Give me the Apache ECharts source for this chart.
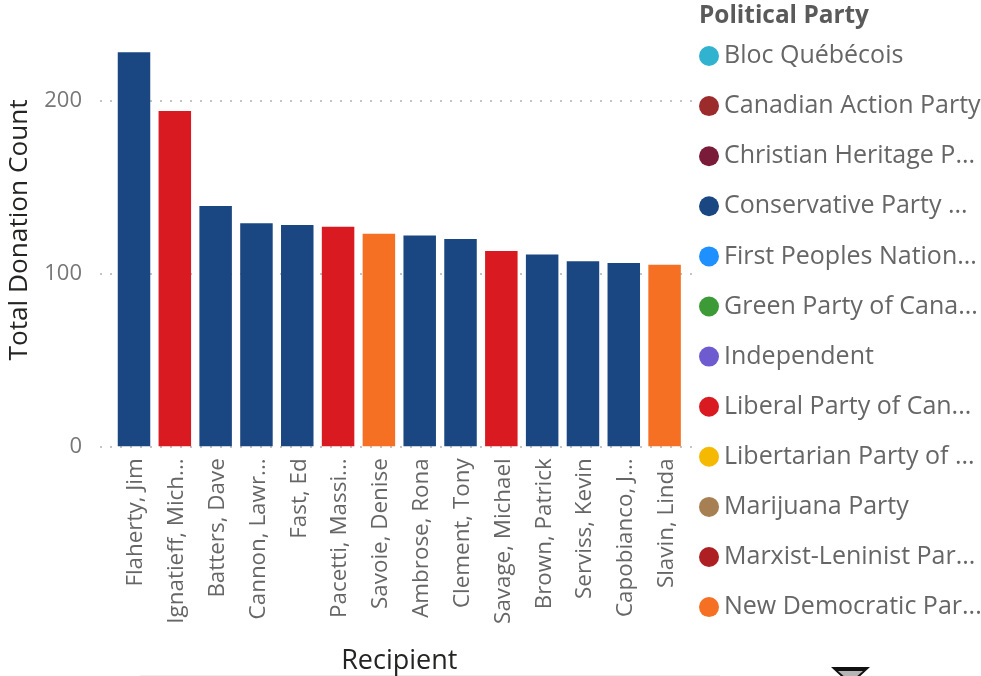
<!DOCTYPE html>
<html>
<head>
<meta charset="utf-8">
<style>html,body{margin:0;padding:0;background:#fff}#c{width:981px;height:676px}</style>
<script src="https://cdn.jsdelivr.net/npm/echarts@6/dist/echarts.min.js"></script>
</head>
<body>
<div id="c"></div>
<script>
const categories = ["Flaherty, Jim","Ignatieff, Mich...","Batters, Dave","Cannon, Lawr...","Fast, Ed","Pacetti, Massi...","Savoie, Denise","Ambrose, Rona","Clement, Tony","Savage, Michael","Brown, Patrick","Serviss, Kevin","Capobianco, J...","Slavin, Linda"];
const values = [228,194,139,129,128,127,123,122,120,113,111,107,106,105];
const recipientParty = ["Conservative Party ...","Liberal Party of Can...","Conservative Party ...","Conservative Party ...","Conservative Party ...","Liberal Party of Can...","New Democratic Par...","Conservative Party ...","Conservative Party ...","Liberal Party of Can...","Conservative Party ...","Conservative Party ...","Conservative Party ...","New Democratic Par..."];
const parties = ["Bloc Québécois","Canadian Action Party","Christian Heritage P...","Conservative Party ...","First Peoples Nation...","Green Party of Cana...","Independent","Liberal Party of Can...","Libertarian Party of ...","Marijuana Party","Marxist-Leninist Par...","New Democratic Par..."];
const partyColors = ["#31B2CE","#9C2B2B","#7B1B3A","#1A4781","#1E90FF","#3C9A37","#6F5BD0","#D91B21","#F4B900","#A67F52","#AE1F24","#F57022"];

const font = '"Open Sans", sans-serif';
const chart = echarts.init(document.getElementById('c'), null, {renderer:'canvas'});
chart.setOption({
  animation:false,
  backgroundColor:'#fff',
  title:{text:'Political Party',left:699,top:4,padding:0,textStyle:{fontFamily:font,fontWeight:'bold',fontSize:24.4,color:'#5a5a5a'}},
  legend:{
    orient:'vertical',left:699,top:43.5,padding:0,itemWidth:20,itemHeight:20,itemGap:25.1,icon:'circle',
    data:parties,
    selectedMode:false,
    textStyle:{fontFamily:font,fontSize:25,color:'#666',padding:[0,0,0,0]}
  },
  grid:[
    {left:113.6,width:571.4,top:31.5,bottom:229.7,outerBoundsMode:'none'},
    {left:100,width:597,top:31.5,bottom:229.7,outerBoundsMode:'none'}
  ],
  xAxis:[
    {type:'category',gridIndex:0,data:categories,
     name:'Recipient',nameLocation:'middle',nameGap:202,nameMoveOverlap:false,
     nameTextStyle:{fontFamily:font,fontSize:27,color:'#252423'},
     axisLine:{show:false},axisTick:{show:false},
     axisLabel:{interval:0,rotate:90,margin:12,verticalAlign:'top',lineHeight:4,fontFamily:font,fontSize:22.4,color:'#666'}},
    {type:'value',gridIndex:1,min:0,max:1,show:false}
  ],
  yAxis:[
    {type:'value',gridIndex:0,min:0,max:240,interval:100,show:false},
    {type:'value',gridIndex:1,min:0,max:240,interval:100,
     name:'Total Donation Count',nameLocation:'middle',nameGap:67,nameMoveOverlap:false,
     nameTextStyle:{fontFamily:font,fontSize:26.2,color:'#252423',padding:[0,0,0,18]},
     axisLine:{show:false},axisTick:{show:false},
     axisLabel:{margin:18,align:'right',showMaxLabel:false,padding:[3,0,0,0],fontFamily:font,fontSize:22,color:'#777'},
     splitLine:{show:true,showMaxLine:false,lineStyle:{color:'#c4c4c4',width:2,type:[2,8]}}}
  ],
  series:parties.map((p,i)=>({
    name:p,type:'bar',stack:'all',xAxisIndex:0,yAxisIndex:0,barWidth:32.5,
    itemStyle:{color:partyColors[i]},
    data:values.map((v,k)=>recipientParty[k]===p?v:null)
  })),
  graphic:[
    {type:'line',shape:{x1:140,y1:675.5,x2:720,y2:675.5},style:{stroke:'#eeeeee',lineWidth:1}},
    {type:'polygon',shape:{points:[[831,667],[870,667],[856,680],[845,680]]},style:{fill:'#111'}},
    {type:'polygon',shape:{points:[[838,671],[863,671],[855,678],[846,678]]},style:{fill:'#b5b5b5'}}
  ]
});
</script>
</body>
</html>
